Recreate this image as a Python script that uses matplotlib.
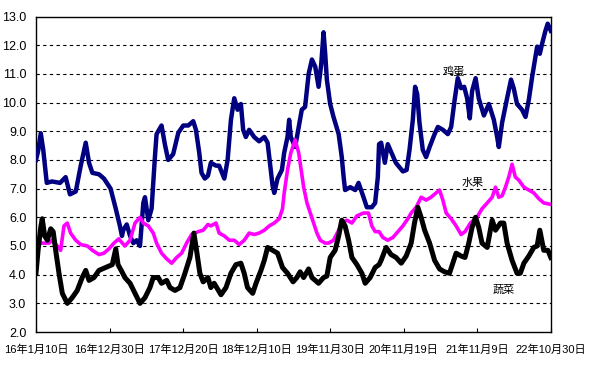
import matplotlib

matplotlib.use("Agg")

from matplotlib import pyplot as plt

# days counted from 2016-01-10
egg_day = [0, 10, 23, 35, 52, 77, 116, 143, 164, 192, 216, 240, 256, 272, 304, 328, 360, 385, 405, 415,
           421, 438, 454, 470, 486, 502, 518, 526, 542, 558, 574, 582, 606, 622, 638, 662, 687, 711, 735,
           759, 772, 788, 799, 815, 830, 844, 869, 884, 909, 925, 941, 957, 973, 989, 1000, 1013, 1029,
           1053, 1077, 1102, 1118, 1129, 1142, 1150, 1166, 1187, 1198, 1214, 1222, 1230, 1251, 1268, 1283,
           1299, 1316, 1332, 1348, 1364, 1377, 1388, 1396, 1404, 1420, 1436, 1461, 1476, 1485, 1492, 1517,
           1541, 1557, 1581, 1597, 1621, 1637, 1650, 1656, 1666, 1684, 1698, 1713, 1737, 1771, 1789, 1803,
           1819, 1830, 1840, 1851, 1867, 1883, 1900, 1924, 1940, 1964, 1988, 2004, 2020, 2036, 2052, 2067,
           2081, 2094, 2105, 2122, 2137, 2162, 2186, 2210, 2226, 2234, 2250, 2274, 2293, 2306, 2322, 2346,
           2363, 2379, 2395, 2403, 2419, 2432, 2443, 2459, 2470, 2485]
egg_val = [8.0, 8.3, 8.93, 8.35, 7.2, 7.25, 7.2, 7.4, 6.8, 6.9, 7.8, 8.6, 7.9, 7.55, 7.5, 7.35, 7.0, 6.3, 5.7,
           5.35, 5.55, 5.75, 5.35, 5.1, 5.2, 5.0, 6.5, 6.7, 5.9, 6.3, 8.1, 8.9, 9.2, 8.55, 8.0, 8.2, 8.95,
           9.2, 9.2, 9.35, 9.05, 8.25, 7.55, 7.35, 7.45, 7.9, 7.8, 7.8, 7.35, 8.0, 9.4, 10.15, 9.75, 9.95,
           9.05, 8.8, 9.05, 8.8, 8.65, 8.8, 8.6, 7.9, 7.1, 6.85, 7.35, 7.65, 8.25, 8.8, 9.4, 8.8, 8.45, 9.15,
           9.75, 9.85, 11.0, 11.5, 11.25, 10.55, 11.35, 12.45, 11.7, 10.8, 9.95, 9.5, 8.9, 8.1, 7.4, 6.95,
           7.05, 6.95, 7.2, 6.7, 6.35, 6.35, 6.5, 7.4, 8.55, 8.6, 7.9, 8.55, 8.3, 7.9, 7.6, 7.65, 8.35, 9.4,
           10.55, 10.3, 9.3, 8.35, 8.1, 8.45, 8.9, 9.15, 9.05, 8.9, 9.15, 10.05, 10.85, 10.5, 10.55, 10.15,
           9.45, 10.4, 10.85, 10.15, 9.55, 9.95, 9.4, 8.8, 8.45, 9.3, 10.15, 10.8, 10.5, 9.95, 9.75, 9.5,
           10.1, 10.9, 11.25, 11.95, 11.7, 12.05, 12.5, 12.75, 12.5]

fruit_day = [0, 14, 39, 63, 77, 103, 119, 135, 151, 167, 192, 216, 248, 272, 304, 328, 352, 376, 400, 405,
             429, 454, 478, 502, 518, 542, 566, 582, 606, 631, 655, 679, 703, 727, 751, 783, 807, 830, 844,
             869, 884, 909, 933, 957, 981, 1005, 1029, 1053, 1077, 1102, 1126, 1150, 1174, 1190, 1198, 1214,
             1230, 1235, 1251, 1268, 1280, 1292, 1308, 1324, 1340, 1356, 1372, 1396, 1412, 1436, 1461, 1476,
             1501, 1525, 1549, 1581, 1605, 1621, 1637, 1656, 1674, 1698, 1723, 1747, 1771, 1795, 1811, 1835,
             1859, 1883, 1907, 1931, 1948, 1964, 1980, 2004, 2028, 2052, 2071, 2097, 2129, 2153, 2178, 2202,
             2218, 2234, 2250, 2266, 2282, 2298, 2314, 2330, 2355, 2379, 2403, 2427, 2451, 2485]
fruit_val = [4.65, 5.1, 5.1, 5.1, 5.2, 5.0, 4.85, 5.7, 5.8, 5.45, 5.2, 5.05, 5.0, 4.85, 4.7, 4.75, 4.9, 5.1,
             5.25, 5.2, 5.0, 5.2, 5.8, 6.0, 5.8, 5.7, 5.45, 5.1, 4.75, 4.55, 4.4, 4.6, 4.75, 5.1, 5.4, 5.5,
             5.55, 5.75, 5.7, 5.8, 5.45, 5.35, 5.2, 5.2, 5.05, 5.2, 5.45, 5.4, 5.45, 5.55, 5.7, 5.8, 5.95,
             6.3, 6.85, 7.65, 8.25, 8.35, 8.7, 8.25, 7.65, 7.05, 6.5, 6.15, 5.8, 5.45, 5.2, 5.1, 5.1, 5.2,
             5.55, 5.8, 5.9, 5.8, 6.05, 6.15, 6.15, 5.7, 5.5, 5.5, 5.3, 5.2, 5.3, 5.5, 5.7, 5.95, 6.15, 6.35,
             6.7, 6.6, 6.7, 6.85, 6.95, 6.6, 6.15, 5.95, 5.7, 5.4, 5.5, 5.8, 6.0, 6.3, 6.5, 6.7, 7.05, 6.7,
             6.75, 7.05, 7.4, 7.85, 7.4, 7.3, 7.05, 6.95, 6.85, 6.65, 6.5, 6.45]

veg_day = [0, 10, 23, 30, 42, 55, 71, 83, 95, 111, 127, 151, 175, 199, 223, 240, 256, 280, 304, 336, 368,
           385, 396, 415, 429, 454, 478, 502, 526, 550, 566, 590, 606, 631, 647, 671, 695, 719, 743, 762,
           775, 791, 807, 830, 844, 860, 893, 917, 941, 965, 989, 1005, 1021, 1046, 1062, 1086, 1102, 1118,
           1142, 1166, 1190, 1214, 1241, 1259, 1275, 1292, 1316, 1332, 1364, 1388, 1404, 1420, 1444, 1461,
           1476, 1492, 1509, 1525, 1549, 1573, 1589, 1613, 1637, 1656, 1666, 1690, 1714, 1738, 1763, 1787,
           1811, 1827, 1843, 1859, 1876, 1900, 1924, 1948, 1972, 1996, 2012, 2028, 2052, 2071, 2089, 2105,
           2122, 2137, 2153, 2178, 2202, 2218, 2242, 2258, 2274, 2298, 2322, 2338, 2355, 2379, 2403, 2419,
           2432, 2451, 2471, 2485]
veg_val = [4.05, 4.85, 5.65, 5.95, 5.35, 5.2, 5.6, 5.5, 4.85, 4.05, 3.35, 3.0, 3.2, 3.45, 3.9, 4.15, 3.8,
           3.9, 4.15, 4.25, 4.35, 4.9, 4.35, 4.1, 3.9, 3.7, 3.35, 3.0, 3.2, 3.55, 3.9, 3.9, 3.7, 3.8, 3.55,
           3.45, 3.55, 4.05, 4.6, 5.45, 4.85, 4.05, 3.75, 3.9, 3.55, 3.7, 3.3, 3.55, 4.05, 4.35, 4.4, 4.05,
           3.55, 3.35, 3.7, 4.15, 4.5, 4.95, 4.85, 4.75, 4.25, 4.05, 3.75, 3.9, 4.1, 3.9, 4.2, 3.9, 3.7, 3.9,
           3.95, 4.6, 4.85, 5.35, 5.9, 5.7, 5.2, 4.6, 4.35, 4.05, 3.7, 3.9, 4.25, 4.35, 4.5, 4.95, 4.7, 4.6,
           4.4, 4.65, 5.1, 5.8, 6.35, 6.0, 5.55, 5.1, 4.5, 4.2, 4.1, 4.05, 4.4, 4.75, 4.65, 4.6, 5.1, 5.65,
           6.0, 5.65, 5.1, 4.95, 5.9, 5.55, 5.8, 5.8, 5.1, 4.5, 4.05, 4.05, 4.4, 4.65, 4.95, 5.0, 5.55,
           4.85, 4.85, 4.6]

tick_days = [0, 355, 710, 1065, 1420, 1775, 2130, 2485]
tick_labels = ["16年1月10日", "16年12月30日", "17年12月20日", "18年12月10日",
               "19年11月30日", "20年11月19日", "21年11月9日", "22年10月30日"]
y_ticks = [2, 3, 4, 5, 6, 7, 8, 9, 10, 11, 12, 13]

FONT = ["Liberation Sans", "Noto Sans CJK SC", "DejaVu Sans"]
plt.rcParams["font.family"] = FONT

fig = plt.figure(figsize=(6.0, 3.71), dpi=100)
ax = fig.add_axes([0.06, 0.105, 0.858, 0.8505])

ax.plot(egg_day, egg_val, color="#000080", linewidth=3.2, solid_joinstyle="round", zorder=3)
ax.plot(fruit_day, fruit_val, color="#ff00ff", linewidth=2.6, solid_joinstyle="round", zorder=4)
ax.plot(veg_day, veg_val, color="black", linewidth=3.6, solid_joinstyle="round", zorder=5)

ax.set_xlim(0, 2485)
ax.set_ylim(2, 13)
ax.set_yticks(y_ticks)
ax.set_yticklabels([f"{v:.1f}" for v in y_ticks])
ax.set_xticks(tick_days)
ax.set_xticklabels(tick_labels)
ax.tick_params(axis="y", length=0, pad=7, labelsize=9)
ax.tick_params(axis="x", direction="in", length=3, pad=9, labelsize=8)

for v in y_ticks[1:-1]:
    ax.axhline(v, color="black", linestyle=(0, (3, 3)), linewidth=0.8, zorder=1)

for spine in ax.spines.values():
    spine.set_color("black")
    spine.set_linewidth(1.0)

ax.text(2015, 11.1, "鸡蛋", fontsize=8, ha="center", va="center")
ax.text(2110, 7.2, "水果", fontsize=8, ha="center", va="center")
ax.text(2257, 3.48, "蔬菜", fontsize=8, ha="center", va="center")

fig.savefig("out.png", dpi=100)
